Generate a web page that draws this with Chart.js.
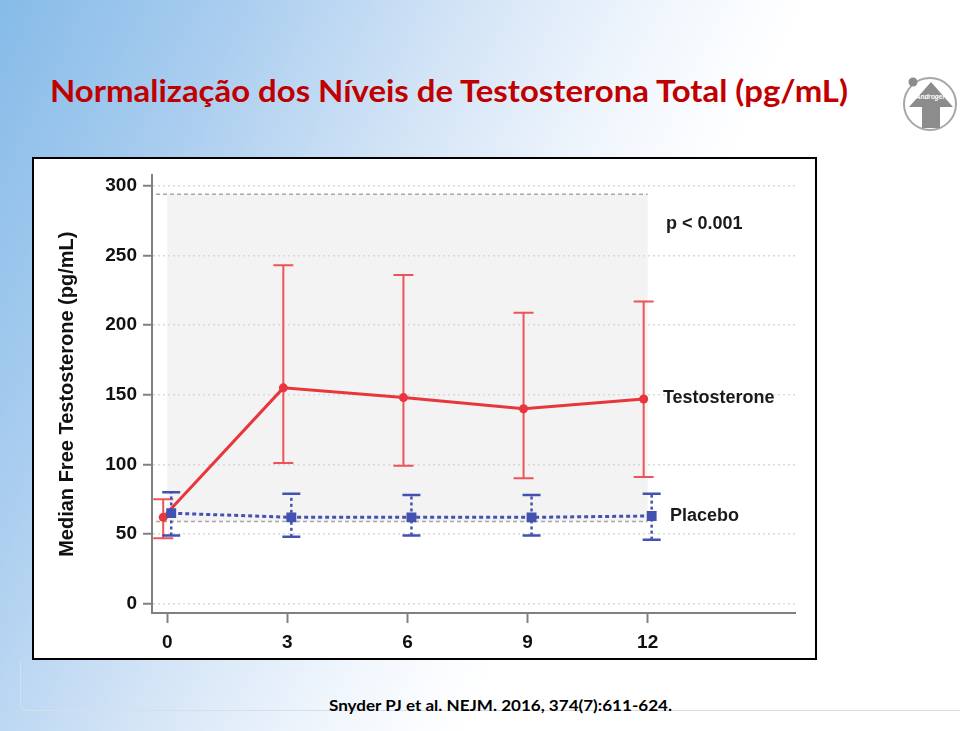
<!DOCTYPE html>
<html>
<head>
<meta charset="utf-8">
<title>Normalização dos Níveis de Testosterona Total</title>
<script src="https://cdn.jsdelivr.net/npm/chart.js@4.4.1/dist/chart.umd.min.js"></script>
<style>
  html, body { margin: 0; padding: 0; }
  body {
    width: 960px; height: 731px; overflow: hidden; position: relative;
    background: linear-gradient(115deg, #86bbe8 0%, #a9cdef 18%, #d3e4f6 36%, #f2f7fd 52%, #ffffff 62%);
  }
  #title {
    position: absolute; left: 50px; top: 72px;
    font-family: Lato, 'Open Sans', sans-serif; font-weight: 700; font-size: 31px; line-height: 1.2;
    color: #c00000; white-space: nowrap; transform-origin: 0 0;
  }
  #cite {
    position: absolute; left: 329px; top: 695px;
    font-family: Lato, 'Open Sans', sans-serif; font-weight: 700; font-size: 16px; line-height: 1.2;
    color: #000; white-space: nowrap; transform-origin: 0 0;
  }
  #panel {
    position: absolute; left: 20px; top: 660px; width: 960px; height: 50px;
    border-left: 1px solid #d6dee8; border-bottom: 1px solid #d6dee8;
    border-bottom-left-radius: 8px;
  }
  #box {
    position: absolute; left: 32px; top: 157px; width: 781px; height: 499px;
    border: 2px solid #000; background: #fff;
  }
  #chart { position: absolute; left: 33px; top: 158px; }
  #logo { position: absolute; left: 900px; top: 74px; }
</style>
</head>
<body>
<div id="panel"></div>
<div id="title">Normalização dos Níveis de Testosterona Total (pg/mL)</div>
<svg id="logo" width="60" height="60" viewBox="900 74 60 60">
  <circle cx="930" cy="104" r="26" fill="#fff" stroke="#a6a6a6" stroke-width="2"/>
  <circle cx="913" cy="82" r="4.5" fill="#8c8c8c"/>
  <path d="M931 82 L953 107 L940 107 L940 128 L922 128 L922 107 L909 107 Z" fill="#8c8c8c"/>
  <text x="930" y="99" fill="#fff" font-family="Liberation Sans, Arial" font-style="italic" font-weight="bold" font-size="6.5" text-anchor="middle">Androgel</text>
</svg>
<div id="box"></div>
<canvas id="chart" width="783" height="502"></canvas>
<div id="cite">Snyder PJ et al. NEJM. 2016, 374(7):611-624.</div>

<script>
// ── Data ──────────────────────────────────────────────────
const xTicks    = [0, 3, 6, 9, 12];
const yTicks    = [0, 50, 100, 150, 200, 250, 300];

const testX     = [-0.1, 2.9, 5.9, 8.9, 11.9];
const testMed   = [62, 155, 148, 140, 147];
const testLo    = [47, 101, 99, 90, 91];
const testHi    = [75, 243, 236, 209, 217];

const placX     = [0.1, 3.1, 6.1, 9.1, 12.1];
const placMed   = [65, 62, 62, 62, 63];
const placLo    = [49, 48, 49, 49, 46];
const placHi    = [80, 79, 78, 78, 79];

const rangeX    = [0, 12];
const rangeY    = [59, 294];

const noteText  = ['p < 0.001', 'Testosterone', 'Placebo'];
const noteX     = [12.46, 12.38, 12.56];
const noteY     = [272.5, 147.5, 63];

const yTitle    = 'Median Free Testosterone (pg/mL)';

const RED  = '#e8363c';
const BLUE = '#4352b0';

Chart.defaults.font.family = "'Liberation Sans', Arial, sans-serif";

// ── Plugins ───────────────────────────────────────────────
const normalBand = {
  id: 'normalBand',
  beforeDraw(chart) {
    const { ctx, scales: { x, y } } = chart;
    const x0 = x.getPixelForValue(rangeX[0]), x1 = x.getPixelForValue(rangeX[1]);
    const yTop = y.getPixelForValue(rangeY[1]), yBot = y.getPixelForValue(rangeY[0]);
    ctx.save();
    ctx.fillStyle = '#f3f3f3';
    ctx.fillRect(x0, yTop, x1 - x0, yBot - yTop);
    ctx.restore();
  },
  beforeDatasetsDraw(chart) {
    const { ctx, chartArea, scales: { x, y } } = chart;
    const x1 = x.getPixelForValue(rangeX[1]);
    ctx.save();
    ctx.strokeStyle = '#a8a8a8';
    ctx.lineWidth = 1.5;
    ctx.setLineDash([4, 3]);
    rangeY.forEach(v => {
      const py = y.getPixelForValue(v);
      ctx.beginPath();
      ctx.moveTo(chartArea.left + 4, py);
      ctx.lineTo(x1, py);
      ctx.stroke();
    });
    ctx.restore();
  }
};

const errorBars = {
  id: 'errorBars',
  beforeDatasetsDraw(chart) {
    const { ctx, scales: { x, y } } = chart;
    const draw = (xs, lo, hi, color, dash, width, cap) => {
      ctx.save();
      ctx.strokeStyle = color;
      ctx.lineWidth = width;
      xs.forEach((xv, i) => {
        const px = x.getPixelForValue(xv);
        const pLo = y.getPixelForValue(lo[i]), pHi = y.getPixelForValue(hi[i]);
        ctx.setLineDash(dash);
        ctx.beginPath();
        ctx.moveTo(px, pLo);
        ctx.lineTo(px, pHi);
        ctx.stroke();
        ctx.setLineDash([]);
        ctx.beginPath();
        ctx.moveTo(px - cap, pLo); ctx.lineTo(px + cap, pLo);
        ctx.moveTo(px - cap, pHi); ctx.lineTo(px + cap, pHi);
        ctx.stroke();
      });
      ctx.restore();
    };
    draw(testX, testLo, testHi, '#ec5459', [], 2, 10);
    draw(placX, placLo, placHi, BLUE, [3, 3], 2.5, 9);
  }
};

const notes = {
  id: 'notes',
  afterDraw(chart) {
    const { ctx, scales: { x, y } } = chart;
    ctx.save();
    ctx.font = "bold 18px 'Liberation Sans', Arial, sans-serif";
    ctx.fillStyle = '#1a1a1a';
    ctx.textAlign = 'left';
    ctx.textBaseline = 'middle';
    noteText.forEach((t, i) => ctx.fillText(t, x.getPixelForValue(noteX[i]), y.getPixelForValue(noteY[i])));
    ctx.restore();
  }
};

// ── Chart ─────────────────────────────────────────────────
const tickFont = { size: 19, weight: 'bold' };

new Chart(document.getElementById('chart'), {
  type: 'line',
  data: {
    datasets: [
      {
        label: 'Placebo',
        data: placX.map((v, i) => ({ x: v, y: placMed[i] })),
        borderColor: BLUE, borderWidth: 3, borderDash: [4, 3],
        pointStyle: 'rect', pointRadius: 7, pointBorderWidth: 0,
        pointBackgroundColor: BLUE, tension: 0
      },
      {
        label: 'Testosterone',
        data: testX.map((v, i) => ({ x: v, y: testMed[i] })),
        borderColor: RED, borderWidth: 3,
        pointStyle: 'circle', pointRadius: 4.5, pointBorderWidth: 0,
        pointBackgroundColor: RED, tension: 0
      }
    ]
  },
  options: {
    responsive: false,
    animation: false,
    layout: { padding: { top: 15, right: 21, left: 0, bottom: 0 } },
    plugins: { legend: { display: false }, tooltip: { enabled: false } },
    scales: {
      x: {
        type: 'linear', min: -0.38, max: 15.68,
        afterBuildTicks: s => { s.ticks = xTicks.map(v => ({ value: v })); },
        afterFit: s => { s.height = 47; },
        grid: { drawOnChartArea: false, tickLength: 10, tickColor: '#808080', tickWidth: 2 },
        border: { color: '#808080', width: 2 },
        ticks: { font: tickFont, color: '#111', padding: 8, maxRotation: 0 }
      },
      y: {
        type: 'linear', min: -6.7, max: 307.6,
        afterBuildTicks: s => { s.ticks = yTicks.map(v => ({ value: v })); },
        afterFit: s => { s.width = 119; },
        grid: { color: '#d9d9d9', lineWidth: 1.5, tickLength: 9, tickColor: '#808080', tickWidth: 2 },
        border: { color: '#808080', width: 2, dash: [2, 3] },
        ticks: { font: tickFont, color: '#111', padding: 6 },
        title: {
          display: true, text: yTitle, color: '#111',
          font: { size: 20, weight: 'bold' }, padding: { top: 22, bottom: 0 }
        }
      }
    }
  },
  plugins: [normalBand, errorBars, notes]
});

// ── Fit slide texts to their widths ───────────────────────
function fitWidth(id, w) {
  const el = document.getElementById(id);
  el.style.transform = 'none';
  const r = w / el.getBoundingClientRect().width;
  el.style.transform = 'scaleX(' + r + ')';
}
fitWidth('title', 798);
fitWidth('cite', 343);
if (document.fonts) document.fonts.ready.then(() => { fitWidth('title', 798); fitWidth('cite', 343); });
</script>
</body>
</html>
